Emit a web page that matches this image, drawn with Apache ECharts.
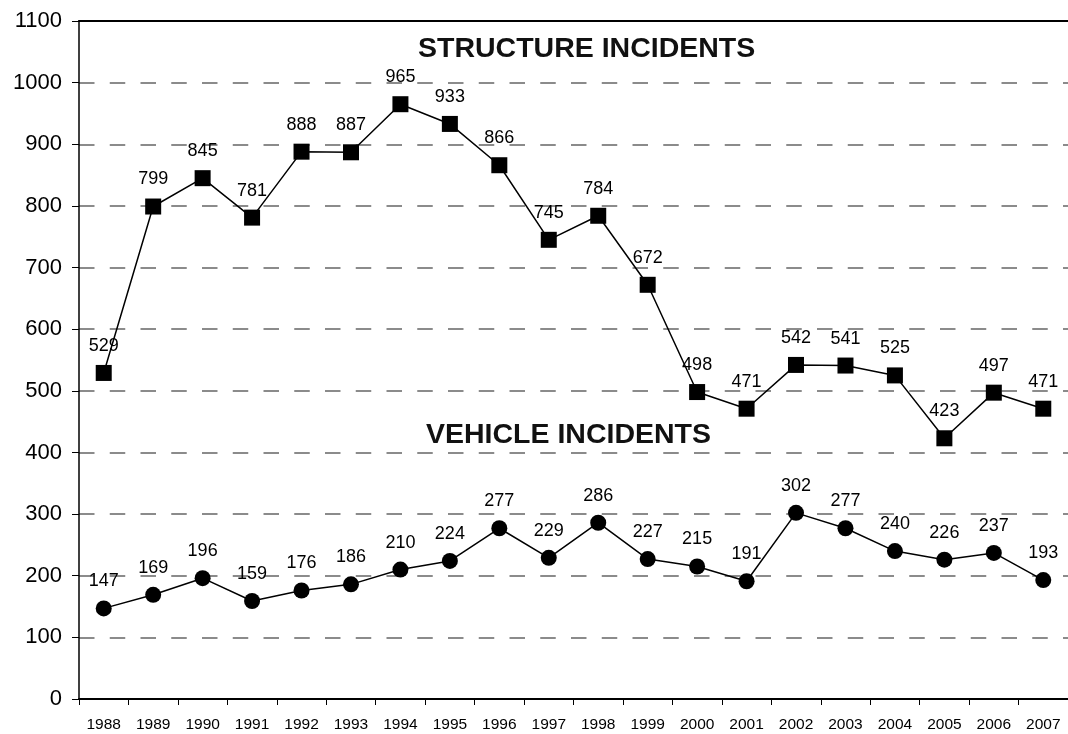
<!DOCTYPE html>
<html>
<head>
<meta charset="utf-8">
<script src="https://cdn.jsdelivr.net/npm/echarts@6/dist/echarts.min.js"></script>
<style>
  html, body { margin: 0; padding: 0; background: #fff; }
  #chart { width: 1068px; height: 734px; }
</style>
</head>
<body>
<div id="chart"></div>
<script>
// years on the x axis
var years = ['1988', '1989', '1990', '1991', '1992', '1993', '1994', '1995', '1996', '1997',
  '1998', '1999', '2000', '2001', '2002', '2003', '2004', '2005', '2006', '2007']
// structure incidents per year
var structureIncidents = [529, 799, 845, 781, 888, 887, 965, 933, 866, 745,
  784, 672, 498, 471, 542, 541, 525, 423, 497, 471]
// vehicle incidents per year
var vehicleIncidents = [147, 169, 196, 159, 176, 186, 210, 224, 277, 229,
  286, 227, 215, 191, 302, 277, 240, 226, 237, 193]

var font = 'Liberation Sans, Arial, sans-serif'
var chart = echarts.init(document.getElementById('chart'))

var labelStyle = {
  show: true,
  position: 'top',
  distance: 10,
  color: '#000',
  fontSize: 18,
  fontFamily: font
}

chart.setOption({
  animation: false,
  backgroundColor: '#fff',
  title: [{
    text: 'STRUCTURE INCIDENTS',
    left: 413,
    top: 30,
    textStyle: { fontSize: 28.5, fontWeight: 'bold', color: '#111', fontFamily: font }
  }, {
    text: 'VEHICLE INCIDENTS',
    left: 421,
    top: 416,
    textStyle: { fontSize: 28.5, fontWeight: 'bold', color: '#111', fontFamily: font }
  }],
  grid: { left: 79, top: 21, right: -2, bottom: 35, containLabel: false },
  xAxis: [{
    type: 'category',
    data: years,
    boundaryGap: true,
    axisLine: { lineStyle: { color: '#000', width: 2 } },
    axisTick: { show: true, length: 6, lineStyle: { color: '#000', width: 1 } },
    axisLabel: { color: '#000', fontSize: 15.5, fontFamily: font, margin: 18 }
  }, {
    // solid line along the top of the plot
    type: 'category',
    data: years,
    position: 'top',
    axisLine: { lineStyle: { color: '#000', width: 2 } },
    axisTick: { show: false },
    axisLabel: { show: false }
  }],
  yAxis: {
    type: 'value',
    min: 0,
    max: 1100,
    interval: 100,
    axisLine: { show: true, lineStyle: { color: '#000', width: 1.5 } },
    axisTick: { show: true, length: 7, lineStyle: { color: '#000', width: 1 } },
    axisLabel: {
      color: '#000',
      fontSize: 22,
      fontFamily: font,
      margin: 17,
      formatter: function (v) { return String(v) }
    },
    splitLine: {
      show: true,
      lineStyle: { color: '#666', width: 1.5, type: [15.5, 15.25], dashOffset: 0 }
    }
  },
  series: [{
    name: 'Structure',
    type: 'line',
    data: structureIncidents,
    symbol: 'rect',
    symbolSize: 16,
    lineStyle: { color: '#000', width: 1.5 },
    itemStyle: { color: '#000' },
    label: labelStyle
  }, {
    name: 'Vehicle',
    type: 'line',
    data: vehicleIncidents,
    symbol: 'circle',
    symbolSize: 16,
    lineStyle: { color: '#000', width: 1.5 },
    itemStyle: { color: '#000' },
    label: labelStyle
  }]
})
</script>
</body>
</html>
